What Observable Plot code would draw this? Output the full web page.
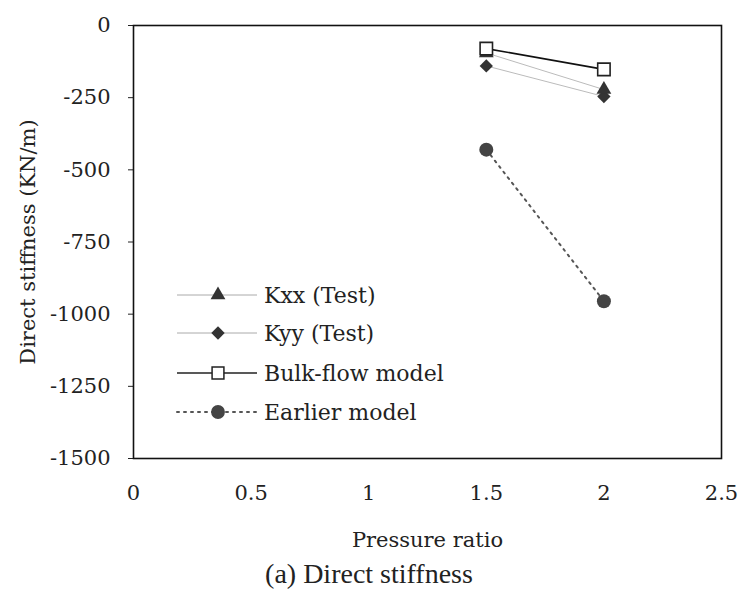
<!DOCTYPE html>
<html><head><meta charset="utf-8">
<script src="https://cdn.jsdelivr.net/npm/d3@7"></script>
<script src="https://cdn.jsdelivr.net/npm/@observablehq/plot@0.6"></script>
<style>
body{margin:0;background:#fff;font-family:"Liberation Serif",serif}
#wrap{position:relative;width:738px;height:591px;overflow:hidden}
#cap{width:738px;height:35px;line-height:35px;text-align:center;font-size:28px;color:#222;font-family:"Liberation Serif",serif;padding-left:0}
#legend{position:absolute;left:0;top:0;pointer-events:none}
</style></head><body>
<div id="wrap"></div>
<script>
// data
const pressureRatio = [1.5, 2];
const kxxTest = [-95, -222];
const kyyTest = [-140, -246];
const bulkFlow = [-80, -152];
const earlierModel = [-430, -955];
const xTicks = [0, 0.5, 1, 1.5, 2, 2.5];
const yTicks = [0, -250, -500, -750, -1000, -1250, -1500];
const seriesNames = ["Kxx (Test)", "Kyy (Test)", "Bulk-flow model", "Earlier model"];

const rows = (ys) => pressureRatio.map((x, i) => ({x, y: ys[i]}));
const kxx = rows(kxxTest), kyy = rows(kyyTest), bulk = rows(bulkFlow), early = rows(earlierModel);

const FONT = "DejaVu Serif";
const W = 738, H = 556;
const plot = Plot.plot({
  width: W, height: H,
  marginLeft: 133, marginRight: 17, marginTop: 25, marginBottom: H - 458,
  style: {fontSize: "21px", fontFamily: FONT, color: "#222", background: "transparent"},
  x: {domain: [0, 2.5]},
  y: {domain: [-1500, 0]},
  marks: [
    Plot.axisX({ticks: xTicks, tickFormat: d => String(d), tickSize: 0, tickPadding: 27, fontSize: 21, fontFamily: FONT,
      label: "Pressure ratio", labelAnchor: "center", labelArrow: "none", labelOffset: 88}),
    Plot.axisY({ticks: yTicks, tickFormat: d => String(d), tickSize: 5, tickPadding: 18, fontSize: 21, fontFamily: FONT,
      label: "Direct stiffness (KN/m)", labelAnchor: "center", labelArrow: "none", labelOffset: 113}),
    Plot.frame({stroke: "#111", strokeWidth: 1.6}),
    Plot.line(kxx, {x: "x", y: "y", stroke: "#bbb", strokeWidth: 1}),
    Plot.line(kyy, {x: "x", y: "y", stroke: "#bbb", strokeWidth: 1}),
    Plot.line(bulk, {x: "x", y: "y", stroke: "#111", strokeWidth: 1.6}),
    Plot.line(early, {x: "x", y: "y", stroke: "#555", strokeWidth: 2, strokeDasharray: "2 5", strokeLinecap: "round"}),
    Plot.dot(kyy, {x: "x", y: "y", symbol: "diamond2", r: 6, fill: "#333", stroke: "none"}),
    Plot.dot(kxx, {x: "x", y: "y", symbol: "triangle", r: 5.5, fill: "#333", stroke: "none"}),
    Plot.dot(bulk, {x: "x", y: "y", symbol: "square", r: 7, fill: "#fff", stroke: "#222", strokeWidth: 1.6}),
    Plot.dot(early, {x: "x", y: "y", symbol: "circle", r: 7, fill: "#444", stroke: "none"})
  ]
});
const wrap = document.getElementById("wrap");
wrap.appendChild(plot);
const cap = document.createElement("div");
cap.id = "cap"; cap.textContent = "(a) Direct stiffness";
wrap.appendChild(cap);

// legend overlay
const styles = [
  {stroke: "#aaa", sw: 1, dash: null, sym: d3.symbolTriangle, size: 95, fill: "#333", sstroke: "none"},
  {stroke: "#aaa", sw: 1, dash: null, sym: d3.symbolSquare, size: 90, fill: "#333", sstroke: "none", rot: 45},
  {stroke: "#222", sw: 1.5, dash: null, sym: d3.symbolSquare, size: 140, fill: "#fff", sstroke: "#222"},
  {stroke: "#555", sw: 2, dash: "2 5", sym: d3.symbolCircle, size: 150, fill: "#444", sstroke: "none"}
];
const lg = d3.select(wrap).append("svg").attr("id", "legend").attr("width", W).attr("height", H);
const rowY = [295, 333, 373, 412];
seriesNames.forEach((name, i) => {
  const s = styles[i], g = lg.append("g").attr("transform", `translate(0,${rowY[i]})`);
  g.append("line").attr("x1", 177).attr("x2", 257).attr("y1", 0).attr("y2", 0)
    .attr("stroke", s.stroke).attr("stroke-width", s.sw).attr("stroke-dasharray", s.dash).attr("stroke-linecap", s.dash ? "round" : null);
  g.append("path").attr("d", d3.symbol(s.sym, s.size)()).attr("transform", `translate(218,0) rotate(${s.rot || 0})`)
    .attr("fill", s.fill).attr("stroke", s.sstroke).attr("stroke-width", 1.5);
  g.append("text").attr("x", 264).attr("y", 0).attr("dy", "0.35em").attr("font-size", 22)
    .attr("font-family", FONT).attr("fill", "#222").text(name);
});
</script>
</body></html>
